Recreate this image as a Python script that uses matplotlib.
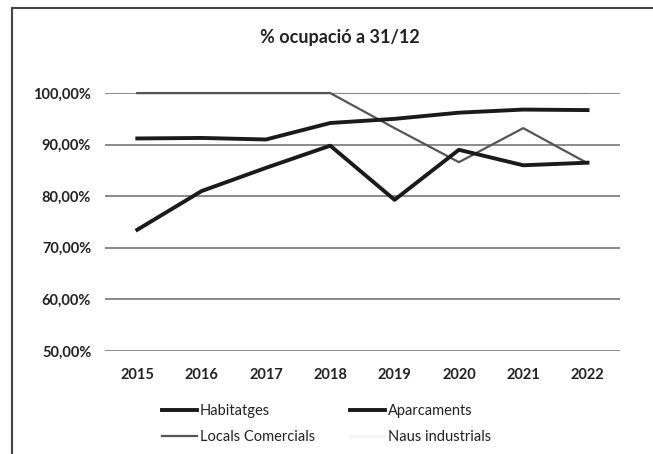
import matplotlib
matplotlib.use('Agg')
import matplotlib.pyplot as plt
from matplotlib.patches import Rectangle

years = ['2015', '2016', '2017', '2018', '2019', '2020', '2021', '2022']
habitatges = [91.2, 91.3, 91.0, 94.2, 95.0, 96.2, 96.8, 96.7]
aparcaments = [73.5, 81.0, 85.5, 89.8, 79.3, 89.0, 86.0, 86.5]
locals_comercials = [100.0, 100.0, 100.0, 100.0, 93.2, 86.6, 93.2, 86.4]
naus_industrials = [100.0, 100.0, 100.0, 100.0, 100.0, 100.0, 100.0, 100.0]
yticks = [50, 60, 70, 80, 90, 100]

plt.rcParams['font.family'] = ['Lato', 'DejaVu Sans']

fig = plt.figure(figsize=(6.53, 4.54), dpi=100)
ax = fig.add_axes([0.161, 0.227, 0.788, 0.568])

x = range(len(years))
# very pale series, sits under the gridline like in the scan
ax.plot(x, naus_industrials, color='#f4f4f4', lw=2.2, label='Naus industrials',
        clip_on=False, zorder=0.3)
ax.plot(x, locals_comercials, color='#555555', lw=1.6, label='Locals Comercials',
        clip_on=False, zorder=4)
ax.plot(x, aparcaments, color='#1a1a1a', lw=2.8, label='Aparcaments',
        clip_on=False, zorder=5)
ax.plot(x, habitatges, color='#1a1a1a', lw=2.8, label='Habitatges',
        clip_on=False, zorder=5)

ax.set_xlim(-0.5, len(years) - 0.5)
ax.set_ylim(50, 100)
ax.set_xticks(list(x))
ax.set_xticklabels(years)
ax.set_yticks(yticks)
ax.set_yticklabels([f'{v},00%' for v in yticks])
ax.tick_params(length=0, labelsize=10.5, colors='#222222', pad=10)
ax.tick_params(axis='x', pad=12)
for lab in ax.get_xticklabels() + ax.get_yticklabels():
    lab.set_fontweight('bold')
ax.grid(axis='y', color='#777777', lw=1.2)
ax.set_axisbelow(True)
for s in ax.spines.values():
    s.set_visible(False)

fig.text(0.52, 0.918, '% ocupació a 31/12', ha='center', va='center',
         fontsize=13, fontweight='bold', color='#222222')

h = {l.get_label(): l for l in ax.get_lines()}
order = ['Habitatges', 'Locals Comercials', 'Aparcaments', 'Naus industrials']
leg = fig.legend([h[k] for k in order], order, loc='center',
                 bbox_to_anchor=(0.5, 0.066), ncol=2, frameon=False,
                 fontsize=10.5, handlelength=2.4, handletextpad=0.2,
                 columnspacing=2.4, labelspacing=0.85)
for t in leg.get_texts():
    t.set_color('#222222')

# chart border
fig.patches.append(Rectangle((0.018, -0.01), 1.0, 0.992, transform=fig.transFigure,
                             fill=False, edgecolor='#444444', lw=1.5))

fig.savefig('out.png', dpi=100)
